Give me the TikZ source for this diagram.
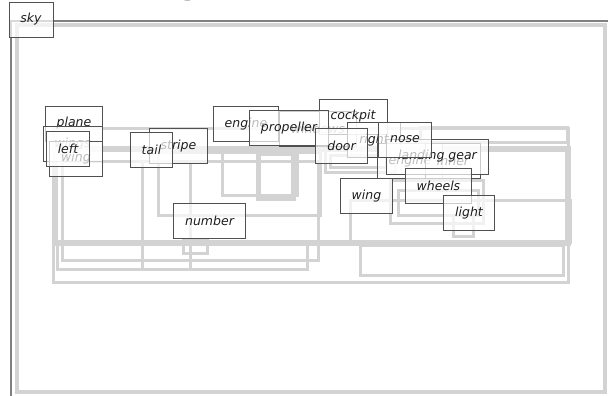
\documentclass[tikz,border=0pt]{standalone}
\usepackage{fontspec}
\setmainfont{DejaVu Sans}
\begin{document}
\begin{tikzpicture}[x=1pt,y=-1pt,
  grp/.style={draw={rgb,255:red,211;green,211;blue,211},line width=#1},
  grp/.default=3,
  nd/.style={draw={rgb,255:red,80;green,80;blue,80},line width=0.8pt,fill=white,fill opacity=0.7,text opacity=1,
    text={rgb,255:red,30;green,30;blue,30},font=\fontsize{12.5}{14}\selectfont\itshape,
    minimum height=35pt,inner xsep=11.5pt,inner ysep=0pt},
]
\useasboundingbox (0,0) rectangle (608,396);
\clip (0,0) rectangle (608,396);
% partial title glyph
\node[font=\fontsize{34}{34}\selectfont\bfseries,text={rgb,255:red,40;green,40;blue,40},inner sep=0pt,anchor=base] (title) at (190,-6) {g};
% outer frame
\draw[draw={rgb,255:red,128;green,128;blue,128},line width=1.5pt] (11,420) -- (11,21) -- (630,21);
% gray group rectangles
\draw[grp=4] (17,25) rectangle (605,392);
\draw[grp] (53,128) rectangle (568,282);
\draw[grp=6] (55,149) rectangle (568,243);
\draw[grp] (62,161) rectangle (318,260);
\draw[grp] (57,243) rectangle (307,269);
\draw[grp] (142,161) rectangle (190,269);
\draw[grp] (158,152) rectangle (320,215);
\draw[grp] (222,150) rectangle (297,195);
\draw[grp=5] (258,153) rectangle (293,198);
\draw[grp] (183,239) rectangle (207,253);
\draw[grp] (360,245) rectangle (563,275);
\draw[grp] (350,200) rectangle (570,242);
\draw[grp] (420,127) rectangle (567,142);
\draw[grp] (390,180) rectangle (483,223);
\draw[grp] (398,190) rectangle (478,215);
\draw[grp] (453,215) rectangle (473,236);
\draw[grp] (325,150) rectangle (395,172);
\draw[grp] (330,155) rectangle (386,167);
% nodes
\node[nd] (sky) at (31,19.5) {sky};
\node[nd] (plane) at (74,123.5) {plane};
\node[nd] (wings) at (72.5,144) {wings};
\node[nd] (wingA) at (76,158.5) {wing};
\node[nd] (left) at (68,148.5) {left};
\node[nd] (stripe) at (178.5,146) {stripe};
\node[nd] (tail) at (151.5,150) {tail};
\node[nd] (windows) at (318,129) {windows};
\node[nd] (cockpit) at (353,116.5) {cockpit};
\node[nd] (engine) at (246,124) {engine};
\node[nd] (propeller) at (289,128) {propeller};
\node[nd] (right) at (374,140) {right};
\node[nd] (door) at (341.5,145.5) {door};
\node[nd] (engineB) at (410,161) {engine};
\node[nd] (inner) at (453,161) {inner};
\node[nd] (landing) at (437.5,156.5) {landing gear};
\node[nd] (nose) at (405,139.5) {nose};
\node[nd] (wheels) at (438.5,185.5) {wheels};
\node[nd] (wingB) at (366.5,196) {wing};
\node[nd] (light) at (469,213) {light};
\node[nd] (number) at (209.5,221) {number};
\end{tikzpicture}
\end{document}
